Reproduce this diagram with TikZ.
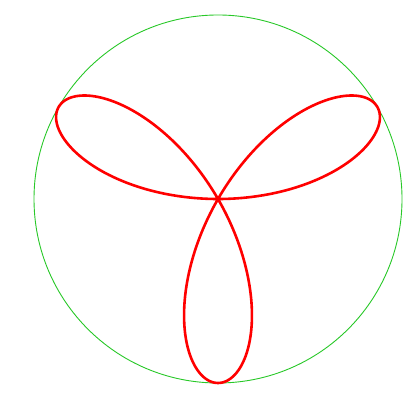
\documentclass[tikz,border=0pt]{standalone}
\begin{document}
\begin{tikzpicture}[x=1pt,y=1pt,
  circ/.style={draw={rgb,255:red,40;green,200;blue,40},line width=0.9pt},
  rose/.style={draw=red,line width=2.6pt,line join=round}]
\useasboundingbox (0,0) rectangle (406,398);
\coordinate (c) at (218,199);
\draw[circ] (c) circle[radius=184];
\draw[rose,shift={(c)}] plot[domain=0:180,samples=361,smooth,variable=\t]
  ({184*sin(3*\t)*cos(\t)},{184*sin(3*\t)*sin(\t)}) -- cycle;
\end{tikzpicture}
\end{document}
